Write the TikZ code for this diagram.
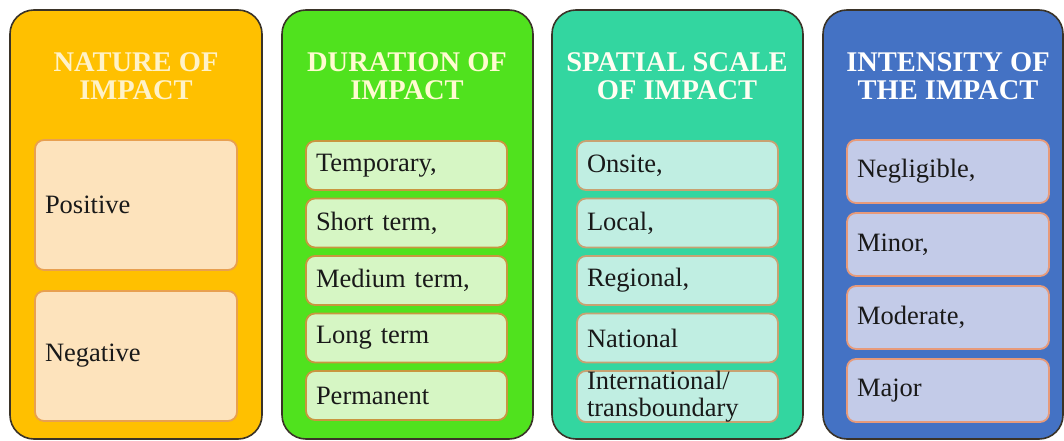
\documentclass[tikz,border=0pt]{standalone}
\usepackage{fontspec}
\setmainfont{Liberation Serif}
\definecolor{pOne}{HTML}{FFC000}
\definecolor{pTwo}{HTML}{50E21E}
\definecolor{pThree}{HTML}{33D6A0}
\definecolor{pFour}{HTML}{4472C4}
\definecolor{bOne}{HTML}{FDE3BC}
\definecolor{bTwo}{HTML}{D6F6C4}
\definecolor{bThree}{HTML}{C0EEE2}
\definecolor{bFour}{HTML}{C3CBE8}
\definecolor{eOne}{HTML}{E8A050}
\definecolor{eTwo}{HTML}{C9963F}
\definecolor{eThree}{HTML}{C8A272}
\definecolor{eFour}{HTML}{E79A7A}
\definecolor{tOne}{HTML}{FFF2C8}
\definecolor{tTwo}{HTML}{FFFBD0}
\definecolor{panelEdge}{HTML}{3A3328}
\begin{document}
\begin{tikzpicture}[x=1pt,y=-1pt,
  panel/.style={draw=panelEdge,line width=1.6pt,rounded corners=24pt,inner sep=0pt},
  title/.style={font=\fontsize{28.5}{28.5}\selectfont\bfseries,align=center,inner sep=0pt},
  item/.style={line width=1.8pt,rounded corners=9pt,inner xsep=10pt,inner ysep=0pt,
    align=left,font=\fontsize{26.5}{27}\selectfont,text=black!90},
]
\useasboundingbox[fill=white] (0,0) rectangle (1064,441);
% panels
\node[panel,fill=pOne,minimum width=252pt,minimum height=429pt] (p1) at (136,224.5) {};
\node[panel,fill=pTwo,minimum width=251pt,minimum height=429pt] (p2) at (407.5,224.5) {};
\node[panel,fill=pThree,minimum width=251pt,minimum height=429pt] (p3) at (677.5,224.5) {};
\node[panel,fill=pFour,minimum width=240pt,minimum height=429pt] (p4) at (943,224.5) {};
% titles
\node[title,text=tOne] (t1) at (136,76) {NATURE OF\\IMPACT};
\node[title,text=tTwo] (t2) at (407,76) {DURATION OF\\IMPACT};
\node[title,text=white!95!yellow] (t3) at (677,76) {SPATIAL SCALE\\OF IMPACT};
\node[title,text=white] (t4) at (948,76) {INTENSITY OF\\THE IMPACT};
% panel 1 items
\begin{scope}[every node/.append style={item,draw=eOne,fill=bOne,text width=182pt,minimum height=130pt}]
\node (a1) at (136,205) {Positive};
\node (a2) at (136,356) {Negative};
\end{scope}
% panel 2 items
\begin{scope}[every node/.append style={item,draw=eTwo,fill=bTwo,text width=181pt,minimum height=49pt}]
\node (b1) at (406.5,165.5) {Temporary,};
\node (b2) at (406.5,223) {Short term,};
\node (b3) at (406.5,280.5) {Medium term,};
\node (b4) at (406.5,338) {Long term};
\node (b5) at (406.5,395.5) {Permanent};
\end{scope}
% panel 3 items
\begin{scope}[every node/.append style={item,draw=eThree,fill=bThree,text width=181pt,minimum height=49pt}]
\node (c1) at (677.5,165.5) {Onsite,};
\node (c2) at (677.5,223) {Local,};
\node (c3) at (677.5,280.5) {Regional,};
\node (c4) at (677.5,338) {National};
\node (c5) at (677.5,396.5) {International/\\transboundary};
\end{scope}
% panel 4 items
\begin{scope}[every node/.append style={item,draw=eFour,fill=bFour,text width=182pt,minimum height=63pt}]
\node (d1) at (948,171.5) {Negligible,};
\node (d2) at (948,244.5) {Minor,};
\node (d3) at (948,317.5) {Moderate,};
\node (d4) at (948,390.5) {Major};
\end{scope}
\end{tikzpicture}
\end{document}
